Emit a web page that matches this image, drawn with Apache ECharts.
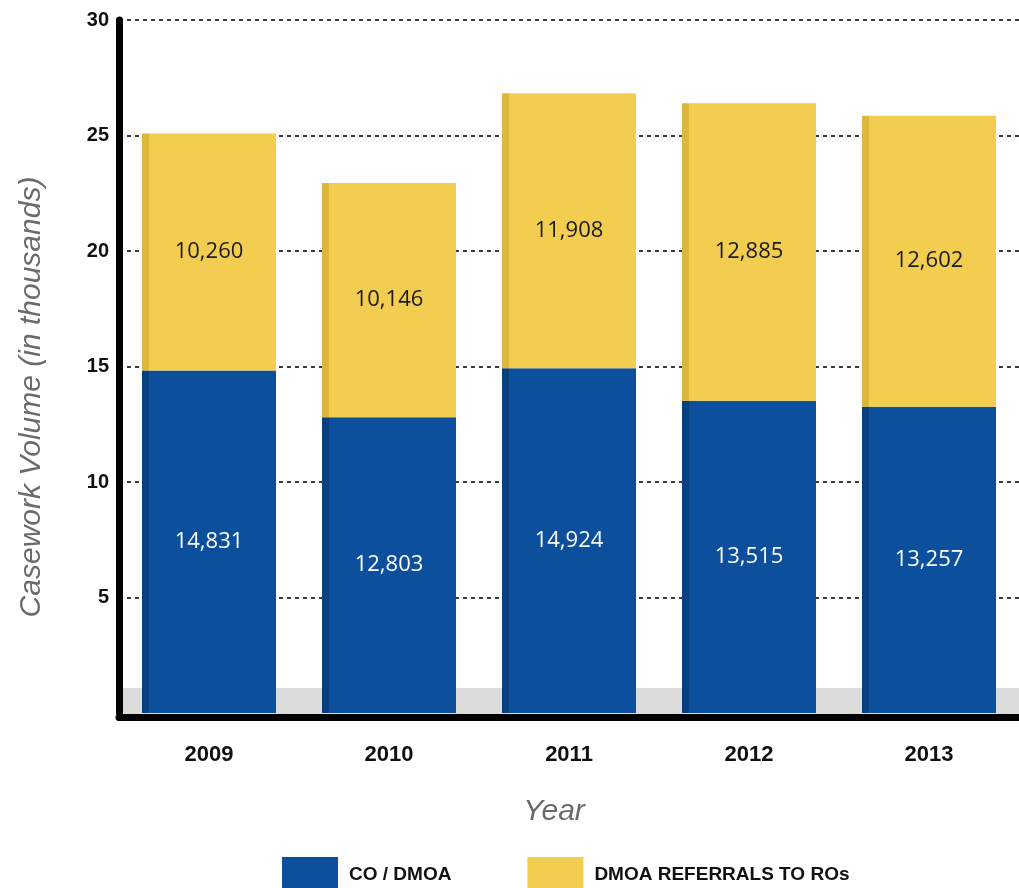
<!DOCTYPE html>
<html>
<head>
<meta charset="utf-8">
<script src="https://cdn.jsdelivr.net/npm/echarts@6/dist/echarts.min.js"></script>
<style>
html,body{margin:0;padding:0;background:#fff;}
#chart{width:1019px;height:888px;}
</style>
</head>
<body>
<div id="chart"></div>
<script>
const years = ['2009', '2010', '2011', '2012', '2013'];
const coDmoa = [14831, 12803, 14924, 13515, 13257];
const referrals = [10260, 10146, 11908, 12885, 12602];
const seriesNames = ['CO / DMOA', 'DMOA REFERRALS TO ROs'];
const yTicks = [0, 5, 10, 15, 20, 25, 30];

const blueFill = new echarts.graphic.LinearGradient(0, 0, 1, 0, [
  {offset: 0, color: '#073f80'}, {offset: 0.055, color: '#073f80'},
  {offset: 0.056, color: '#0b4f9d'}, {offset: 1, color: '#0b4f9d'}
]);
const yellowFill = new echarts.graphic.LinearGradient(0, 0, 1, 0, [
  {offset: 0, color: '#ddb73c'}, {offset: 0.055, color: '#ddb73c'},
  {offset: 0.056, color: '#f2cd4f'}, {offset: 1, color: '#f2cd4f'}
]);

const chart = echarts.init(document.getElementById('chart'), null, {renderer: 'canvas'});
chart.setOption({
  animation: false,
  backgroundColor: '#ffffff',
  grid: {left: 119, top: 20, width: 905, height: 693, containLabel: false},
  graphic: [
    {type: 'rect', z: 0, shape: {x: 122, y: 688, width: 900, height: 26}, style: {fill: '#dcdcdc'}},
    {type: 'text', z: 10, x: 32, y: 397, rotation: Math.PI / 2,
     style: {text: 'Casework Volume (in thousands)', font: 'italic 30px "Liberation Sans", Arial, sans-serif',
             fill: '#6b6b6b', align: 'center', verticalAlign: 'middle'}}
  ],
  legend: {
    top: 852, left: 277, itemWidth: 56, itemHeight: 36, itemGap: 76,
    icon: 'rect',
    textStyle: {fontFamily: '"Liberation Sans", Arial, sans-serif', fontWeight: 'bold',
                fontSize: 19, color: '#111', padding: [0, 0, 0, 6]},
    data: [{name: seriesNames[0], itemStyle: {color: '#0b4f9d'}}, {name: seriesNames[1], itemStyle: {color: '#f2cd4f'}}]
  },
  xAxis: {
    type: 'category', data: years, offset: 4,
    name: 'Year', nameLocation: 'middle', nameGap: 80,
    nameTextStyle: {fontFamily: '"Liberation Sans", Arial, sans-serif', fontStyle: 'italic', fontSize: 30, color: '#6b6b6b', padding: [0, 30, 0, 0]},
    axisLine: {show: true, onZero: false, lineStyle: {color: '#000', width: 7}},
    axisTick: {show: false},
    axisLabel: {margin: 27, fontFamily: '"Liberation Sans", Arial, sans-serif', fontWeight: 'bold', fontSize: 22, color: '#111'}
  },
  yAxis: {
    type: 'value', min: 0, max: 30, interval: 5,
    axisLine: {show: true, lineStyle: {color: '#000', width: 7}},
    axisTick: {show: false},
    axisLabel: {
      margin: 10, fontFamily: '"Liberation Sans", Arial, sans-serif', fontWeight: 'bold', fontSize: 20, color: '#111',
      formatter: v => (v === yTicks[0] ? '' : String(v))
    },
    splitLine: {show: true, showMinLine: false, lineStyle: {color: '#3a3a3a', width: 2, type: [4, 4]}}
  },
  series: [
    {
      name: seriesNames[0], type: 'bar', stack: 'total', barWidth: 134,
      data: coDmoa.map(v => v / 1000),
      itemStyle: {color: blueFill},
      label: {show: true, position: 'inside', color: '#ffffff', fontFamily: '"Open Sans", sans-serif', fontSize: 22,
              formatter: p => coDmoa[p.dataIndex].toLocaleString('en-US')}
    },
    {
      name: seriesNames[1], type: 'bar', stack: 'total', barWidth: 134,
      data: referrals.map(v => v / 1000),
      itemStyle: {color: yellowFill},
      label: {show: true, position: 'inside', color: '#1a1a1a', fontFamily: '"Open Sans", sans-serif', fontSize: 22,
              formatter: p => referrals[p.dataIndex].toLocaleString('en-US')}
    }
  ]
});
</script>
</body>
</html>
